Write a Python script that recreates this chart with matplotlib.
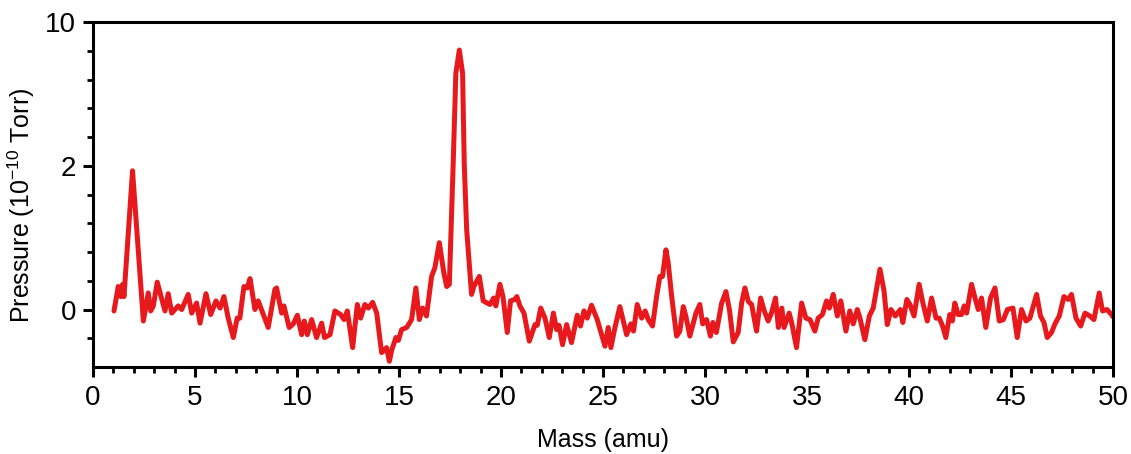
import numpy as np
import matplotlib
matplotlib.use("Agg")
import matplotlib.pyplot as plt
from matplotlib.ticker import FixedLocator

plt.rcParams['font.family'] = ['Liberation Sans', 'DejaVu Sans']
plt.rcParams['mathtext.default'] = 'regular'

# mass scan
mass = [1.03, 1.24, 1.36, 1.45, 1.52, 1.94, 2.47, 2.71, 2.83, 2.96, 3.15, 3.53, 3.69, 3.86,
        4.18, 4.35, 4.67, 4.84, 5.08, 5.25, 5.54, 5.77, 6.03, 6.23, 6.42, 6.63, 6.88, 7.07,
        7.2, 7.4, 7.56, 7.7, 7.94, 8.1, 8.59, 8.92, 9.0, 9.25, 9.36, 9.62, 9.82, 10.02,
        10.23, 10.36, 10.51, 10.72, 10.96, 11.21, 11.35, 11.62, 11.86, 12.14, 12.31, 12.47,
        12.73, 12.96, 13.12, 13.33, 13.5, 13.71, 13.91, 14.15, 14.39, 14.53, 14.65, 14.85,
        14.97, 15.13, 15.38, 15.62, 15.83, 16.0, 16.16, 16.35, 16.6, 16.76, 16.98, 17.2,
        17.34, 17.47, 17.66, 17.79, 17.96, 18.12, 18.2, 18.32, 18.56, 18.67, 18.94, 19.13,
        19.46, 19.64, 19.75, 19.95, 20.1, 20.31, 20.47, 20.68, 20.78, 20.93, 21.13, 21.39,
        21.67, 21.78, 21.95, 22.16, 22.37, 22.57, 22.73, 22.85, 23.02, 23.22, 23.46, 23.74,
        23.9, 24.07, 24.23, 24.44, 24.72, 25.1, 25.26, 25.39, 25.59, 25.83, 26.16, 26.37,
        26.5, 26.68, 26.9, 27.07, 27.22, 27.43, 27.63, 27.79, 27.92, 28.09, 28.2, 28.37,
        28.61, 28.77, 28.94, 29.07, 29.26, 29.42, 29.56, 29.75, 29.89, 30.08, 30.27, 30.39,
        30.56, 30.82, 31.03, 31.21, 31.39, 31.63, 31.8, 31.96, 32.13, 32.29, 32.53, 32.73,
        32.91, 33.1, 33.26, 33.46, 33.6, 33.77, 33.88, 34.13, 34.25, 34.49, 34.74, 34.95,
        35.15, 35.39, 35.55, 35.76, 35.96, 36.1, 36.29, 36.49, 36.66, 36.91, 37.1, 37.27,
        37.47, 37.6, 37.84, 38.06, 38.25, 38.58, 38.78, 38.94, 39.12, 39.33, 39.58, 39.7,
        39.9, 40.05, 40.25, 40.5, 40.67, 40.9, 41.11, 41.33, 41.49, 41.65, 41.81, 42.0,
        42.13, 42.25, 42.41, 42.58, 42.71, 42.83, 43.07, 43.24, 43.4, 43.56, 43.77, 44.0,
        44.22, 44.43, 44.63, 44.83, 45.1, 45.31, 45.52, 45.74, 45.93, 46.26, 46.45, 46.62,
        46.78, 46.99, 47.16, 47.37, 47.6, 47.81, 47.97, 48.19, 48.42, 48.63, 48.87, 49.07,
        49.33, 49.49, 49.71, 49.93, 50.0]
pressure = [-0.02, 0.32, 0.18, 0.35, 0.18, 1.93, -0.16, 0.23, -0.02, 0.05, 0.38, -0.02, 0.22, -0.05,
            0.05, 0.0, 0.21, -0.05, 0.09, -0.19, 0.22, -0.07, 0.12, 0.02, 0.18, -0.12, -0.39, -0.12,
            -0.12, 0.32, 0.3, 0.43, 0.0, 0.12, -0.25, 0.28, 0.3, -0.05, 0.05, -0.25, -0.2, -0.08,
            -0.35, -0.16, -0.35, -0.14, -0.39, -0.19, -0.39, -0.35, -0.02, -0.07, -0.14, -0.02,
            -0.53, 0.07, -0.12, 0.07, 0.02, 0.1, -0.05, -0.6, -0.53, -0.72, -0.56, -0.39,
            -0.43, -0.28, -0.25, -0.14, 0.3, -0.14, 0.02, -0.09, 0.46, 0.58, 0.93, 0.51,
            0.32, 0.35, 2.15, 7.15, 8.44, 7.15, 2.15, 1.11, 0.21, 0.32, 0.46, 0.12,
            0.07, 0.16, 0.05, 0.35, 0.18, -0.32, 0.12, 0.14, 0.18, 0.05, -0.05, -0.44,
            -0.21, -0.22, 0.02, -0.12, -0.39, -0.05, -0.28, -0.22, -0.49, -0.21, -0.46, -0.08,
            -0.23, -0.02, -0.12, 0.06, -0.14, -0.51, -0.25, -0.53, -0.25, 0.04, -0.35, -0.2,
            -0.3, 0.07, -0.12, -0.02, -0.14, -0.23, 0.18, 0.46, 0.46, 0.83, 0.65, 0.18,
            -0.37, -0.3, 0.04, -0.1, -0.37, -0.2, -0.05, 0.07, -0.2, -0.14, -0.37, -0.18,
            -0.32, 0.09, 0.25, -0.02, -0.45, -0.32, 0.09, 0.3, 0.11, 0.07, -0.3, 0.16,
            -0.02, -0.16, -0.05, 0.16, -0.25, 0.02, -0.25, -0.05, -0.18, -0.53, 0.09, -0.12,
            -0.14, -0.3, -0.12, -0.07, 0.12, 0.02, 0.21, -0.09, 0.12, -0.3, -0.02, -0.2,
            0.0, -0.12, -0.42, -0.09, 0.02, 0.56, 0.26, -0.21, 0.0, -0.09, 0.0, -0.18,
            0.14, 0.07, -0.09, 0.35, 0.11, -0.16, 0.16, -0.12, -0.12, -0.23, -0.39, -0.07,
            -0.16, 0.09, -0.07, -0.07, 0.05, -0.05, 0.35, 0.16, 0.0, 0.16, -0.25, 0.16,
            0.3, -0.16, -0.14, 0.0, 0.02, -0.39, 0.0, -0.16, -0.12, 0.21, -0.09, -0.18,
            -0.39, -0.32, -0.2, -0.09, 0.18, 0.14, 0.21, -0.12, -0.23, -0.05, -0.09, -0.14,
            0.23, -0.02, 0.0, -0.07, -0.1]

y_major = [0, 2, 10]
y_minor = [-0.4, 0.4, 0.8, 1.2, 1.6, 3.6, 5.2, 6.8, 8.4]


# broken y scale: 0-2 linear, 2-10 compressed by 4
def fwd(y):
    y = np.asarray(y, dtype=float)
    return np.where(y <= 2, y, 2 + (y - 2) / 4)


def inv(t):
    t = np.asarray(t, dtype=float)
    return np.where(t <= 2, t, 2 + (t - 2) * 4)


fig = plt.figure(figsize=(11.31, 4.54), dpi=100)
ax = fig.add_axes([0.0822, 0.1916, 0.9018, 0.7599])
ax.plot(mass, pressure, color='#e8191c', lw=3.6, solid_joinstyle='round',
        solid_capstyle='round')

ax.set_yscale('function', functions=(fwd, inv))
ax.set_ylim(-0.8, 10)
ax.set_xlim(0, 50)
ax.yaxis.set_major_locator(FixedLocator(y_major))
ax.yaxis.set_minor_locator(FixedLocator(y_minor))
ax.yaxis.set_major_formatter(plt.FuncFormatter(lambda v, p: f"{v:g}"))
ax.xaxis.set_major_locator(FixedLocator(range(0, 51, 5)))
ax.xaxis.set_minor_locator(FixedLocator(range(0, 51, 1)))

for s in ax.spines.values():
    s.set_linewidth(2.2)
ax.tick_params(which='major', length=7, width=2.2, labelsize=20, direction='out')
ax.tick_params(which='minor', length=4.5, width=2.0, direction='out')
ax.tick_params(axis='x', pad=6)
ax.tick_params(axis='y', pad=5)

ax.set_xlabel('Mass (amu)', fontsize=18, labelpad=12)
ax.set_ylabel('Pressure (10$^{-10}$ Torr)', fontsize=18)
ax.yaxis.set_label_coords(-0.055, 0.47)

fig.savefig('out.png', dpi=100)
